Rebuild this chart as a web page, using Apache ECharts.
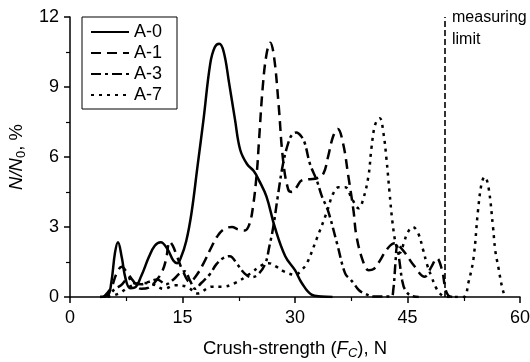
<!DOCTYPE html>
<html>
<head>
<meta charset="utf-8">
<script src="https://cdn.jsdelivr.net/npm/echarts@6/dist/echarts.min.js"></script>
<style>html,body{margin:0;padding:0;background:#fff}#c{width:530px;height:362px}</style>
</head>
<body>
<div id="c"></div>
<script>
// ---- data (x = crush strength N, y = N/N0 %) ----
var seriesNames = ['A-0', 'A-1', 'A-3', 'A-7'];
var xTicks = [0, 15, 30, 45, 60];
var yTicks = [0, 3, 6, 9, 12];
var measuringLimit = 50;

var a0 = [[4,0],[5,0.05],[5.5,0.6],[6,1.9],[6.4,2.35],[6.9,1.7],[7.4,0.8],[8,0.38],[8.6,0.4],[9.5,0.9],[10.5,1.7],[11.3,2.2],[12.1,2.35],[13,2.05],[13.8,1.55],[14.3,1.45],[14.8,1.7],[15.5,2.4],[16.2,3.6],[17,5.6],[17.8,7.6],[18.7,10.0],[19.3,10.7],[19.9,10.85],[20.5,10.5],[21.2,9.2],[22,7.6],[22.7,6.3],[23.6,5.7],[24.5,5.4],[25.2,5.0],[26.2,4.3],[27.3,3.0],[28.7,1.75],[30,1.15],[30.9,0.6],[32.2,0.1],[33.5,0.02],[35,0]];

var a1 = [[4.5,0],[5.5,0.4],[6.2,1.0],[6.9,1.3],[7.5,1.1],[8.4,0.7],[9.5,0.35],[10.5,0.4],[11.6,0.75],[12.3,1.1],[12.8,1.6],[13.3,2.37],[13.7,2.2],[14.2,1.8],[15.1,1.08],[16,0.65],[16.8,0.9],[17.8,1.44],[18.8,2.1],[19.6,2.58],[20.5,2.9],[21.6,3.0],[22.4,2.9],[23.3,2.85],[23.9,3.1],[24.4,3.87],[24.9,5.3],[25.2,6.7],[25.7,9.0],[26.2,10.4],[26.7,10.9],[27.2,10.3],[27.8,8.3],[28.4,5.9],[29.1,4.6],[29.6,4.5],[30.2,4.7],[30.9,5.0],[32,5.05],[33,5.1],[33.8,5.3],[34.4,6.0],[35.1,6.9],[35.7,7.2],[36.4,6.6],[37.1,5.2],[37.8,3.7],[38.2,2.6],[39.1,1.5],[39.8,1.15],[40.5,1.2],[41.1,1.45],[42.4,2.1],[43.3,2.3],[44.4,2.0],[45.8,1.37],[47.3,0.87],[48.2,1.3],[48.9,1.66],[49.6,1.16],[50,0.44],[50.4,0.08],[51,0]];

var a3 = [[4,0],[5,0.05],[6,0.35],[6.8,0.5],[7.8,0.8],[8.5,0.6],[9.5,0.55],[10.5,0.65],[11.6,0.75],[12.8,0.55],[13.8,0.75],[14.6,1.0],[15.3,1.1],[16,0.7],[16.7,0.35],[17.5,0.6],[18.7,1.0],[19.5,1.4],[20.4,1.66],[21.3,1.75],[22.3,1.4],[23.3,1.0],[24.2,0.85],[25,0.95],[26,1.4],[26.6,2.2],[27.1,3.0],[27.7,4.3],[28.4,5.7],[29.1,6.6],[29.6,6.95],[30.2,7.05],[30.8,6.9],[31.3,6.6],[32,5.7],[32.9,5.0],[33.6,4.3],[34.4,3.7],[35.6,2.3],[36.7,1.0],[37.4,0.75],[37.8,0.6],[38.5,0.3],[39.3,0.15],[40.5,0.02],[42.8,0.02],[43.1,0.3],[43.4,1.5],[43.6,2.2],[43.9,1.6],[44.3,0.7],[44.7,0.3],[45.5,0.05],[46.5,0]];

var a7 = [[5,0],[6.5,0.15],[8,0.45],[9.5,0.6],[11,0.55],[12.5,0.35],[14,0.5],[15.6,0.44],[17,0.15],[18.9,0.44],[20.2,0.44],[22,0.6],[24,1.0],[25.5,1.35],[26.5,1.45],[27.5,1.3],[28.5,1.1],[30,0.95],[31,1.2],[31.6,1.45],[32.9,2.5],[34.2,3.6],[35.1,4.44],[35.8,4.7],[36.7,4.7],[37.6,4.2],[38.5,3.8],[39.1,4.2],[39.8,5.2],[40.2,6.4],[40.7,7.4],[41.3,7.66],[41.8,7.0],[42.2,5.9],[42.6,4.5],[43,3.2],[43.5,2.2],[44,1.9],[44.5,2.3],[45,2.75],[45.7,3.0],[46.4,2.75],[47.1,2.0],[47.6,1.4],[48.2,0.87],[48.8,0.4],[49.3,0.16],[50,0.02],[51,0],[52.5,0],[53.1,0.59],[53.8,1.66],[54.4,3.7],[54.9,4.9],[55.3,5.15],[55.8,4.7],[56.4,3.0],[56.7,2.0],[57.1,1.3],[57.6,0.44],[58,0]];

var seriesData = [a0, a1, a3, a7];
var dashTypes = ['solid', [10, 6], [10, 4, 3, 4], [3, 5]];

var FONT = '"Liberation Sans", Arial, sans-serif';
var chart = echarts.init(document.getElementById('c'), null, {renderer: 'canvas'});

var series = seriesData.map(function (d, i) {
  return {
    name: seriesNames[i],
    type: 'line',
    data: d,
    smooth: 0.4,
    symbol: 'none',
    itemStyle: {color: '#000'},
    lineStyle: {color: '#000', width: 2.5, type: dashTypes[i], cap: 'butt'},
    z: 5,
    animation: false
  };
});
series[0].markLine = {
  silent: true,
  symbol: ['none', 'none'],
  label: {show: false},
  lineStyle: {color: '#000', width: 1.6, type: [6, 3]},
  data: [[{coord: [measuringLimit, 0]}, {coord: [measuringLimit, 12]}]],
  animation: false
};

chart.setOption({
  animation: false,
  backgroundColor: '#fff',
  grid: {left: 70, right: 10, top: 17, bottom: 65, containLabel: false, outerBoundsMode: 'none'},
  legend: {
    orient: 'vertical',
    left: 82, top: 17,
    data: seriesNames,
    itemWidth: 38, itemHeight: 14, itemGap: 3,
    padding: [6, 15, 5, 8],
    borderColor: '#000', borderWidth: 1,
    backgroundColor: '#fff',
    itemStyle: {opacity: 0},
    textStyle: {fontFamily: FONT, fontSize: 18, color: '#000'}
  },
  xAxis: {
    type: 'value', min: xTicks[0], max: xTicks[xTicks.length - 1], interval: 15,
    splitLine: {show: false},
    axisLine: {lineStyle: {color: '#000', width: 1.5}},
    axisTick: {length: 6, lineStyle: {color: '#000', width: 1.5}},
    minorTick: {show: true, splitNumber: 2, length: 4, lineStyle: {color: '#000', width: 1.2}},
    axisLabel: {fontFamily: FONT, fontSize: 18, color: '#000', margin: 12},
    name: '{n|Crush-strength (}{i|F}{s|C}{n|), N}',
    nameLocation: 'middle', nameGap: 41,
    nameTextStyle: {
      rich: {
        n: {fontFamily: FONT, fontSize: 18.5, color: '#000'},
        i: {fontFamily: FONT, fontSize: 18.5, color: '#000', fontStyle: 'italic'},
        s: {fontFamily: FONT, fontSize: 13, color: '#000', fontStyle: 'italic', verticalAlign: 'bottom', padding: [9, 0, 0, 0]}
      }
    }
  },
  yAxis: {
    type: 'value', min: yTicks[0], max: yTicks[yTicks.length - 1], interval: 3,
    splitLine: {show: false},
    axisLine: {show: true, lineStyle: {color: '#000', width: 1.5}},
    axisTick: {show: true, length: 6, lineStyle: {color: '#000', width: 1.5}},
    minorTick: {show: true, splitNumber: 2, length: 4, lineStyle: {color: '#000', width: 1.2}},
    axisLabel: {fontFamily: FONT, fontSize: 18, color: '#000', margin: 11},
    name: '{i|N/N}{s|0}{n|, %}',
    nameLocation: 'middle', nameGap: 37, nameRotate: 90,
    nameTextStyle: {
      rich: {
        n: {fontFamily: FONT, fontSize: 18.5, color: '#000'},
        i: {fontFamily: FONT, fontSize: 18.5, color: '#000', fontStyle: 'italic'},
        s: {fontFamily: FONT, fontSize: 13, color: '#000', verticalAlign: 'bottom', padding: [9, 0, 0, 0]}
      }
    }
  },
  graphic: [
    {type: 'text', left: 452, top: 7, style: {text: 'measuring\nlimit', font: '16px "Liberation Sans", Arial, sans-serif', fill: '#000', lineHeight: 22}}
  ],
  series: series
});
</script>
</body>
</html>
